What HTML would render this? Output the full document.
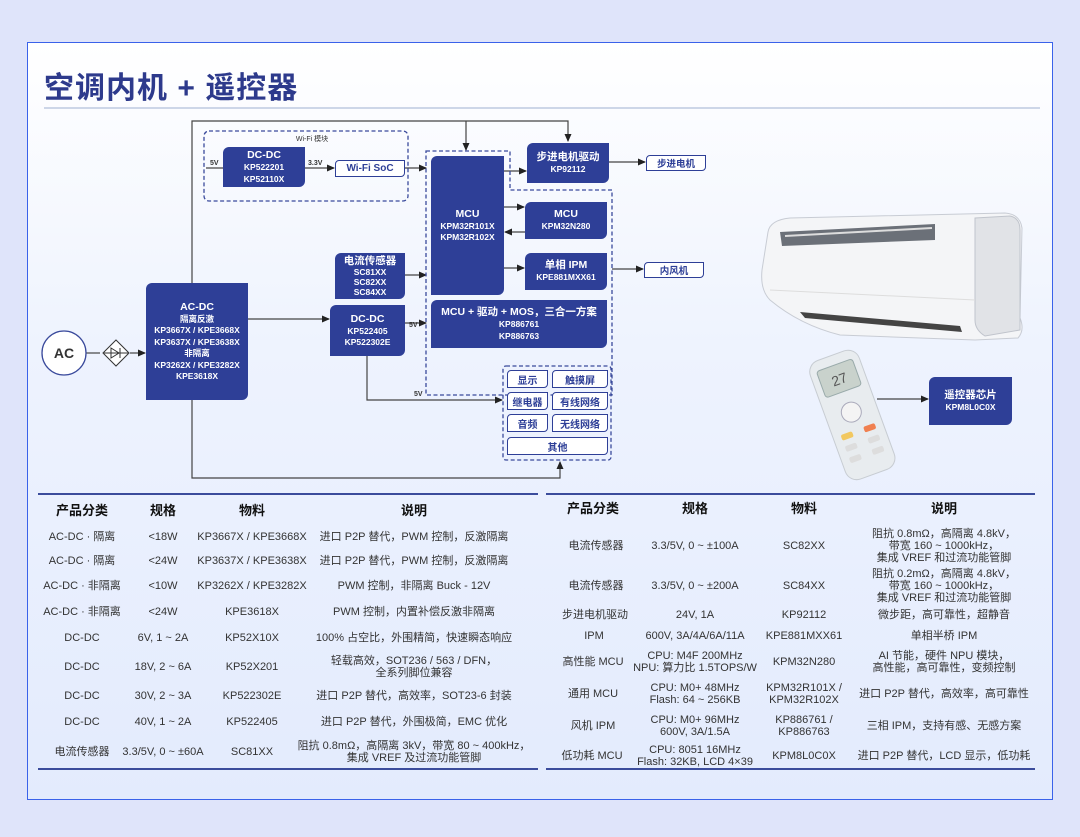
<!DOCTYPE html>
<html><head><meta charset="utf-8"><style>
*{margin:0;padding:0;box-sizing:border-box}
body{width:1080px;height:837px;background:#dfe4fa;position:relative;overflow:hidden;font-family:"Liberation Sans","Noto Sans CJK SC",sans-serif}
.card{position:absolute;left:27px;top:42px;width:1026px;height:758px;border:1.5px solid #3a62ea;background:linear-gradient(180deg,#ffffff 0%,#eef3fe 40%,#e3ebfd 100%)}
.t{position:absolute;left:44px;top:63px;font-size:30px;font-weight:bold;color:#2d3a8c;letter-spacing:1px;font-family:"Liberation Sans","Noto Sans CJK SC",sans-serif}
.hl{position:absolute;left:44px;top:107px;width:996px;height:2px;background:#cdd6e8}
.b{position:absolute;background:#2e3f97;color:#fff;font-weight:bold;font-size:8.5px;text-align:center;line-height:11.5px;border-radius:6px 0 6px 0;display:flex;flex-direction:column;justify-content:center;align-items:center}
.b .h{font-size:10.5px;line-height:13px}
.o{position:absolute;border:1.3px solid #2e3f97;background:#fff;color:#2e3f97;font-weight:bold;font-size:10px;text-align:center;border-radius:4px 0 4px 0;display:flex;align-items:center;justify-content:center}
svg{position:absolute;left:0;top:0}
.tb{position:absolute;font-size:11px;color:#333;}
.tb .c{position:absolute;text-align:center;transform:translate(-50%,-50%);white-space:nowrap;line-height:12px}
.tb .hd{font-weight:bold;font-size:13px;color:#111}
.ln{position:absolute;height:2px;background:#3b4c9c}
</style></head><body>
<div class="card"></div>
<div class="t">空调内机 + 遥控器</div>
<div class="hl"></div>

<svg width="1080" height="837">
<defs><marker id="a" markerWidth="8" markerHeight="8" refX="7" refY="4" orient="auto" markerUnits="userSpaceOnUse"><path d="M0,0.5 L8,4 L0,7.5z" fill="#222"/></marker></defs>
<g fill="none" stroke="#444" stroke-width="1.2">
<polyline points="192,283 192,121 568,121 568,141" marker-end="url(#a)"/>
<line x1="466" y1="121" x2="466" y2="150" marker-end="url(#a)"/>
<polyline points="192,400 192,478 560,478 560,462" marker-end="url(#a)"/>
<line x1="86" y1="353" x2="100" y2="353"/>
<line x1="130" y1="353" x2="145" y2="353" marker-end="url(#a)"/>
<line x1="248" y1="319" x2="329" y2="319" marker-end="url(#a)"/>
<line x1="405" y1="323" x2="426" y2="323" marker-end="url(#a)"/>
<polyline points="367,356 367,400 502,400" marker-end="url(#a)"/>
<line x1="405" y1="275" x2="426" y2="275" marker-end="url(#a)"/>
<line x1="206" y1="168" x2="223" y2="168"/>
<line x1="305" y1="168" x2="334" y2="168" marker-end="url(#a)"/>
<line x1="405" y1="168" x2="426" y2="168" marker-end="url(#a)"/>
<line x1="504" y1="171" x2="526" y2="171" marker-end="url(#a)"/>
<line x1="609" y1="162" x2="645" y2="162" marker-end="url(#a)"/>
<line x1="504" y1="207" x2="524" y2="207" marker-end="url(#a)"/>
<line x1="525" y1="232" x2="505" y2="232" marker-end="url(#a)"/>
<line x1="504" y1="268" x2="524" y2="268" marker-end="url(#a)"/>
<line x1="612" y1="269" x2="643" y2="269" marker-end="url(#a)"/>
<line x1="877" y1="399" x2="928" y2="399" marker-end="url(#a)"/>
</g>
<g fill="none" stroke="#3a4a9c" stroke-width="1.3" stroke-dasharray="4,2.5">
<rect x="204" y="131" width="204" height="70" rx="5"/>
<path d="M426,151 L510,151 L510,190 L612,190 L612,395 L426,395 Z"/>
<rect x="503" y="366" width="108" height="94" rx="3"/>
</g>
<circle cx="64" cy="353" r="22" fill="#fff" stroke="#3a4a9c" stroke-width="1.3"/>
<text x="64" y="358" font-size="14" font-weight="bold" fill="#333" text-anchor="middle" font-family="Liberation Sans">AC</text>
<path d="M116,340 L129,353 L116,366 L103,353Z" fill="#fff" stroke="#333" stroke-width="1"/>
<path d="M111,348 L119,353 L111,358Z M120,348 L120,358 M104,353 L128,353" fill="none" stroke="#333" stroke-width="1"/>
<text x="312" y="141" font-size="7" fill="#333" text-anchor="middle" font-family="Liberation Sans,Noto Sans CJK SC">Wi-Fi 模块</text>
<g font-size="7" fill="#333" font-family="Liberation Sans" font-weight="bold">
<text x="210" y="165">5V</text><text x="308" y="165">3.3V</text><text x="409" y="327">5V</text><text x="414" y="396">5V</text>
</g>
<!-- AC unit -->
<g>
<path d="M768,232 Q770,220 790,218 L1005,213 Q1020,214 1022,228 L1020,318 Q1025,330 1018,338 L975,340 L840,335 Q800,325 770,300 Q760,290 762,270Z" fill="#f4f5f7" stroke="#c8ccd4"/>
<path d="M780,232 L935,224 L935,240 L782,246Z" fill="#6b7078"/>
<path d="M785,236 L932,228" stroke="#ddd" stroke-width="2"/>
<path d="M975,218 L1010,216 Q1020,218 1020,230 L1020,330 L985,336 Q975,330 975,320Z" fill="#e1e3e7" stroke="#c0c4cc"/>
<path d="M800,312 L960,326 L962,332 L805,318Z" fill="#444"/>
<path d="M770,290 L975,300" stroke="#ddd"/>
</g>
<!-- remote -->
<g transform="rotate(-20 852 414)">
<rect x="826" y="352" width="52" height="126" rx="12" fill="#e8ecef" stroke="#c7ccd2"/>
<rect x="833" y="362" width="38" height="28" rx="3" fill="#c9d2cc" stroke="#9aa"/>
<text x="852" y="382" font-size="14" fill="#555" text-anchor="middle" font-family="Liberation Sans">27</text>
<circle cx="852" cy="412" r="10" fill="#f4f4f4" stroke="#aab"/>
<rect x="834" y="430" width="12" height="6" rx="2" fill="#f2c860"/><rect x="858" y="430" width="12" height="6" rx="2" fill="#f08050"/>
<rect x="834" y="442" width="12" height="6" rx="2" fill="#ddd"/><rect x="858" y="442" width="12" height="6" rx="2" fill="#ddd"/>
<rect x="834" y="454" width="12" height="6" rx="2" fill="#ddd"/><rect x="858" y="454" width="12" height="6" rx="2" fill="#ddd"/>
</g>
</svg>

<div class="b" style="left:146px;top:283px;width:102px;height:117px"><div class="h">AC-DC</div>隔离反激<br>KP3667X / KPE3668X<br>KP3637X / KPE3638X<br>非隔离<br>KP3262X / KPE3282X<br>KPE3618X</div>
<div class="b" style="left:223px;top:147px;width:82px;height:40px"><div class="h">DC-DC</div>KP522201<br>KP52110X</div>
<div class="o" style="left:335px;top:160px;width:70px;height:17px">Wi-Fi SoC</div>
<div class="b" style="left:431px;top:156px;width:73px;height:139px"><div class="h">MCU</div>KPM32R101X<br>KPM32R102X</div>
<div class="b" style="left:527px;top:143px;width:82px;height:40px"><div class="h">步进电机驱动</div>KP92112</div>
<div class="o" style="left:646px;top:155px;width:60px;height:16px;font-size:9.5px">步进电机</div>
<div class="b" style="left:525px;top:202px;width:82px;height:37px"><div class="h">MCU</div>KPM32N280</div>
<div class="b" style="left:525px;top:253px;width:82px;height:37px"><div class="h">单相 IPM</div>KPE881MXX61</div>
<div class="o" style="left:644px;top:262px;width:60px;height:16px;font-size:9.5px">内风机</div>
<div class="b" style="left:431px;top:300px;width:176px;height:48px"><div class="h">MCU + 驱动 + MOS，三合一方案</div>KP886761<br>KP886763</div>
<div class="b" style="left:335px;top:253px;width:70px;height:46px;line-height:10px"><div class="h" style="line-height:12px">电流传感器</div>SC81XX<br>SC82XX<br>SC84XX</div>
<div class="b" style="left:330px;top:305px;width:75px;height:51px"><div class="h">DC-DC</div>KP522405<br>KP522302E</div>
<div class="o" style="left:507px;top:370px;width:41px;height:18px">显示</div>
<div class="o" style="left:552px;top:370px;width:56px;height:18px">触摸屏</div>
<div class="o" style="left:507px;top:392px;width:41px;height:18px">继电器</div>
<div class="o" style="left:552px;top:392px;width:56px;height:18px">有线网络</div>
<div class="o" style="left:507px;top:414px;width:41px;height:18px">音频</div>
<div class="o" style="left:552px;top:414px;width:56px;height:18px">无线网络</div>
<div class="o" style="left:507px;top:437px;width:101px;height:18px">其他</div>
<div class="b" style="left:929px;top:377px;width:83px;height:48px"><div class="h">遥控器芯片</div>KPM8L0C0X</div>

<div class="ln" style="left:38px;top:493px;width:500px"></div>
<div class="ln" style="left:38px;top:768px;width:500px"></div>
<div class="ln" style="left:546px;top:493px;width:489px"></div>
<div class="ln" style="left:546px;top:768px;width:489px"></div>

<div class="tb">
<div class="c hd" style="left:82px;top:511px">产品分类</div><div class="c hd" style="left:163px;top:511px">规格</div><div class="c hd" style="left:252px;top:511px">物料</div><div class="c hd" style="left:414px;top:511px">说明</div>
<div class="c" style="left:82px;top:537px">AC-DC · 隔离</div><div class="c" style="left:163px;top:537px">&lt;18W</div><div class="c" style="left:252px;top:537px">KP3667X / KPE3668X</div><div class="c" style="left:414px;top:537px">进口 P2P 替代，PWM 控制，反激隔离</div>
<div class="c" style="left:82px;top:561px">AC-DC · 隔离</div><div class="c" style="left:163px;top:561px">&lt;24W</div><div class="c" style="left:252px;top:561px">KP3637X / KPE3638X</div><div class="c" style="left:414px;top:561px">进口 P2P 替代，PWM 控制，反激隔离</div>
<div class="c" style="left:82px;top:586px">AC-DC · 非隔离</div><div class="c" style="left:163px;top:586px">&lt;10W</div><div class="c" style="left:252px;top:586px">KP3262X / KPE3282X</div><div class="c" style="left:414px;top:586px">PWM 控制，非隔离 Buck - 12V</div>
<div class="c" style="left:82px;top:612px">AC-DC · 非隔离</div><div class="c" style="left:163px;top:612px">&lt;24W</div><div class="c" style="left:252px;top:612px">KPE3618X</div><div class="c" style="left:414px;top:612px">PWM 控制，内置补偿反激非隔离</div>
<div class="c" style="left:82px;top:638px">DC-DC</div><div class="c" style="left:163px;top:638px">6V, 1 ~ 2A</div><div class="c" style="left:252px;top:638px">KP52X10X</div><div class="c" style="left:414px;top:638px">100% 占空比，外围精简，快速瞬态响应</div>
<div class="c" style="left:82px;top:667px">DC-DC</div><div class="c" style="left:163px;top:667px">18V, 2 ~ 6A</div><div class="c" style="left:252px;top:667px">KP52X201</div><div class="c" style="left:414px;top:667px">轻载高效，SOT236 / 563 / DFN，<br>全系列脚位兼容</div>
<div class="c" style="left:82px;top:696px">DC-DC</div><div class="c" style="left:163px;top:696px">30V, 2 ~ 3A</div><div class="c" style="left:252px;top:696px">KP522302E</div><div class="c" style="left:414px;top:696px">进口 P2P 替代，高效率，SOT23-6 封装</div>
<div class="c" style="left:82px;top:722px">DC-DC</div><div class="c" style="left:163px;top:722px">40V, 1 ~ 2A</div><div class="c" style="left:252px;top:722px">KP522405</div><div class="c" style="left:414px;top:722px">进口 P2P 替代，外围极简，EMC 优化</div>
<div class="c" style="left:82px;top:752px">电流传感器</div><div class="c" style="left:163px;top:752px">3.3/5V, 0 ~ ±60A</div><div class="c" style="left:252px;top:752px">SC81XX</div><div class="c" style="left:414px;top:752px">阻抗 0.8mΩ，高隔离 3kV，带宽 80 ~ 400kHz，<br>集成 VREF 及过流功能管脚</div>

<div class="c hd" style="left:593px;top:509px">产品分类</div><div class="c hd" style="left:695px;top:509px">规格</div><div class="c hd" style="left:804px;top:509px">物料</div><div class="c hd" style="left:944px;top:509px">说明</div>
<div class="c" style="left:596px;top:546px">电流传感器</div><div class="c" style="left:695px;top:546px">3.3/5V, 0 ~ ±100A</div><div class="c" style="left:804px;top:546px">SC82XX</div><div class="c" style="left:944px;top:546px">阻抗 0.8mΩ，高隔离 4.8kV，<br>带宽 160 ~ 1000kHz，<br>集成 VREF 和过流功能管脚</div>
<div class="c" style="left:596px;top:586px">电流传感器</div><div class="c" style="left:695px;top:586px">3.3/5V, 0 ~ ±200A</div><div class="c" style="left:804px;top:586px">SC84XX</div><div class="c" style="left:944px;top:586px">阻抗 0.2mΩ，高隔离 4.8kV，<br>带宽 160 ~ 1000kHz，<br>集成 VREF 和过流功能管脚</div>
<div class="c" style="left:595px;top:615px">步进电机驱动</div><div class="c" style="left:695px;top:615px">24V, 1A</div><div class="c" style="left:804px;top:615px">KP92112</div><div class="c" style="left:944px;top:615px">微步距，高可靠性，超静音</div>
<div class="c" style="left:594px;top:636px">IPM</div><div class="c" style="left:695px;top:636px">600V, 3A/4A/6A/11A</div><div class="c" style="left:804px;top:636px">KPE881MXX61</div><div class="c" style="left:944px;top:636px">单相半桥 IPM</div>
<div class="c" style="left:593px;top:662px">高性能 MCU</div><div class="c" style="left:695px;top:662px">CPU: M4F 200MHz<br>NPU: 算力比 1.5TOPS/W</div><div class="c" style="left:804px;top:662px">KPM32N280</div><div class="c" style="left:944px;top:662px">AI 节能，硬件 NPU 模块，<br>高性能，高可靠性，变频控制</div>
<div class="c" style="left:593px;top:694px">通用 MCU</div><div class="c" style="left:695px;top:694px">CPU: M0+ 48MHz<br>Flash: 64 ~ 256KB</div><div class="c" style="left:804px;top:694px">KPM32R101X /<br>KPM32R102X</div><div class="c" style="left:944px;top:694px">进口 P2P 替代，高效率，高可靠性</div>
<div class="c" style="left:593px;top:726px">风机 IPM</div><div class="c" style="left:695px;top:726px">CPU: M0+ 96MHz<br>600V, 3A/1.5A</div><div class="c" style="left:804px;top:726px">KP886761 /<br>KP886763</div><div class="c" style="left:944px;top:726px">三相 IPM，支持有感、无感方案</div>
<div class="c" style="left:592px;top:756px">低功耗 MCU</div><div class="c" style="left:695px;top:756px">CPU: 8051 16MHz<br>Flash: 32KB, LCD 4×39</div><div class="c" style="left:804px;top:756px">KPM8L0C0X</div><div class="c" style="left:944px;top:756px">进口 P2P 替代，LCD 显示，低功耗</div>
</div>
</body></html>
